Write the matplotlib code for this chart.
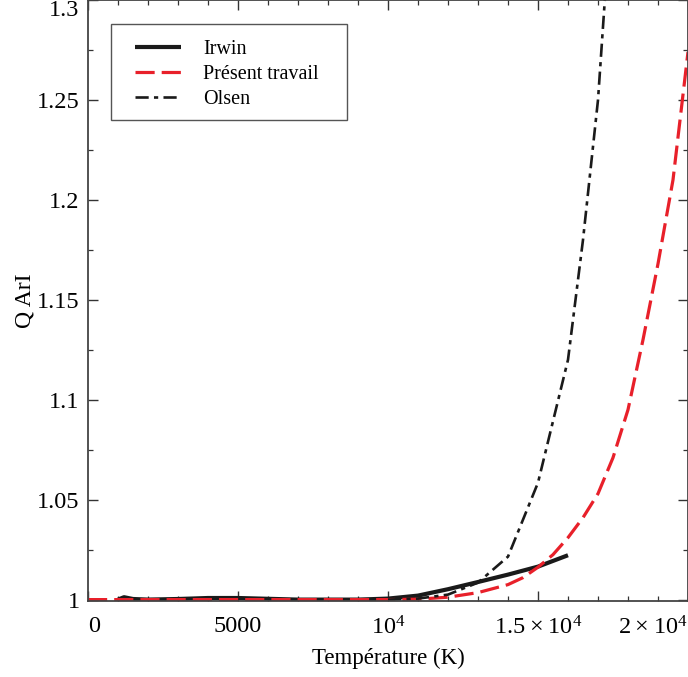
import numpy as np
import matplotlib
matplotlib.use('Agg')
import matplotlib.pyplot as plt
from matplotlib.ticker import MultipleLocator, FixedLocator
from matplotlib.patches import Rectangle

# Irwin partition function (solid black)
irwin_T = [1000, 1200, 1500, 2000, 3000, 4000, 5000, 6000, 7000, 8000, 9000,
           10000, 11000, 12000, 13000, 14000, 15000, 16000]
irwin_Q = [1.0, 1.0012, 1.0003, 1.0, 1.0003, 1.0008, 1.0008, 1.0004, 1.0, 1.0, 1.0,
           1.0005, 1.002, 1.0052, 1.0088, 1.0125, 1.0165, 1.0222]

# present work (red dashed)
present_T = [0, 2000, 4000, 6000, 8000, 10000, 11000, 12000, 13000, 14000, 14500, 15000,
             15500, 16000, 16500, 17000, 17500, 18000, 18500, 19000, 19500, 20000]
present_Q = [1.0, 1.0, 1.0, 1.0, 1.0, 1.0, 1.0002, 1.0012, 1.0035, 1.0075, 1.011, 1.0162,
             1.0225, 1.031, 1.041, 1.053, 1.071, 1.095, 1.13, 1.168, 1.21, 1.274]

# Olsen (dash-dot black)
olsen_T = [10000, 11000, 12000, 13000, 14000, 15000, 16000, 16500, 17000, 17500]
olsen_Q = [1.0, 1.0005, 1.0025, 1.0085, 1.0215, 1.0585, 1.12, 1.18, 1.25, 1.36]

xticks = [0, 5000, 10000, 15000, 20000]
xticklabels = ['0', '5000', r'$10^4$', '1.5\u2009×\u2009$10^4$', '2\u2009×\u2009$10^4$']
yticks = [1.0, 1.05, 1.1, 1.15, 1.2, 1.25, 1.3]
yticklabels = ['1', '1.05', '1.1', '1.15', '1.2', '1.25', '1.3']

plt.rcParams['font.family'] = ['Liberation Serif', 'DejaVu Serif']
plt.rcParams['mathtext.fontset'] = 'custom'
plt.rcParams['mathtext.rm'] = 'Liberation Serif'
plt.rcParams['mathtext.it'] = 'Liberation Serif:italic'

fig = plt.figure(figsize=(6.88, 6.77), dpi=100)
ax = fig.add_axes([88 / 688, 76 / 677, 600 / 688, 601 / 677])

ax.plot(irwin_T, irwin_Q, color='#1a1a1a', lw=3.0, solid_capstyle='butt', label='Irwin')
ax.plot(present_T, present_Q, color='#e8202a', lw=2.3, dashes=(6, 2.2),
        label='Présent travail')
ax.plot(olsen_T, olsen_Q, color='#1a1a1a', lw=1.9, dashes=(5, 2, 1.6, 2), label='Olsen')

ax.set_xlim(0, 20000)
ax.set_ylim(0.9993, 1.3)

ax.xaxis.set_major_locator(FixedLocator(xticks))
ax.set_xticklabels(xticklabels)
ax.xaxis.set_minor_locator(MultipleLocator(1000))
ax.yaxis.set_major_locator(FixedLocator(yticks))
ax.set_yticklabels(yticklabels)
ax.yaxis.set_minor_locator(MultipleLocator(0.025))

ax.tick_params(which='both', direction='in', top=True, right=True, colors='#333333',
               labelcolor='black', labelsize=17.5)
ax.tick_params(which='major', length=7, width=1.0)
ax.tick_params(which='minor', length=3.6, width=0.9)
ax.tick_params(axis='x', pad=11)
ax.tick_params(axis='y', pad=6)

# keep the end labels inside the figure
xl = ax.get_xticklabels()
xl[0].set_ha('left')
xl[-1].set_ha('right')
yl = ax.get_yticklabels()
yl[-1].set_va('top')

for s in ax.spines.values():
    s.set_color('#444444')
    s.set_linewidth(1.3)

ax.set_xlabel('Température (K)', fontsize=16.5, labelpad=6)
ax.set_ylabel('Q ArI', fontsize=17, labelpad=1)

# legend box drawn by hand so the padding matches
ax.add_patch(Rectangle((23 / 600, 1 - 120 / 601), 236 / 600, 96 / 601,
                       transform=ax.transAxes, fill=False, edgecolor='#555555',
                       lw=1.0, zorder=5))
leg = ax.legend(loc='upper left', bbox_to_anchor=(47 / 600, 1 - 40 / 601), fontsize=14.5,
                handlelength=2.3, frameon=False, borderpad=0, labelspacing=0.3,
                handletextpad=1.1, borderaxespad=0)

fig.savefig('out.png', dpi=100)
